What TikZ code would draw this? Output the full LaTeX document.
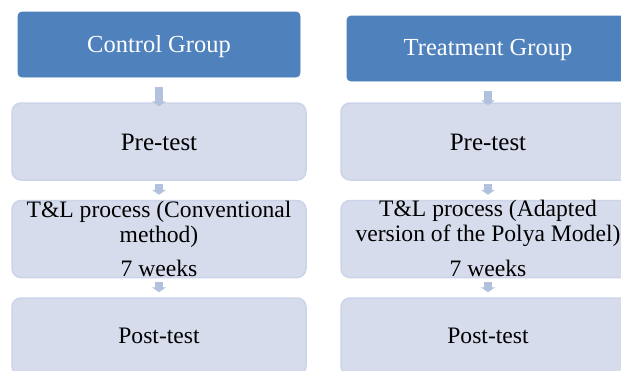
\documentclass[tikz,border=0pt]{standalone}
\usepackage{fontspec}
\setmainfont{Liberation Serif}
\usetikzlibrary{arrows.meta,calc}
\definecolor{darkblue}{HTML}{4F81BD}
\definecolor{lightfill}{HTML}{D6DCEC}
\definecolor{lightedge}{HTML}{CBD4E8}
\definecolor{arrowcol}{HTML}{B2C1DD}
\tikzset{
  x=1pt, y=1pt,
  headbox/.style={draw=darkblue, fill=darkblue, rounded corners=4pt, line width=0.8pt, minimum width=282pt, minimum height=65pt, inner sep=0pt},
  stepbox/.style={draw=lightedge, fill=lightfill, rounded corners=9pt, line width=1.5pt, minimum width=294pt, minimum height=77pt, inner sep=0pt},
  headtxt/.style={text=white, font=\fontsize{24.5}{26}\selectfont, anchor=base, inner sep=0pt},
  bodytxt/.style={text=black, font=\fontsize{23.6}{25}\selectfont, anchor=base, inner sep=0pt},
  camtxt/.style={text=black, font=\fontsize{25}{26}\selectfont, anchor=base, inner sep=0pt},
  blockarrow/.style={draw=arrowcol, line width=8.5pt, line cap=butt, -{Triangle[width=14pt,length=5pt]}}
}
\begin{document}
\begin{tikzpicture}
\useasboundingbox (0,0) rectangle (621,-370);
\clip (0,0) rectangle (621,-370);
\fill[white] (0,0) rectangle (621,-370);
% left column
\node[headbox] (cg) at (159,-44.5) {};
\node[stepbox] (pre1) at (159,-141.5) {};
\node[stepbox] (tl1) at (159,-239) {};
\node[stepbox] (post1) at (159,-336.5) {};
% right column
\node[headbox] (tg) at (488,-48.5) {};
\node[stepbox] (pre2) at (488,-141.5) {};
\node[stepbox] (tl2) at (488,-239) {};
\node[stepbox] (post2) at (488,-336.5) {};
% texts
\node[headtxt] (cgt) at (159,-52) {Control Group};
\node[headtxt] (tgt) at (488,-55) {Treatment Group};
\node[camtxt] (pre1t) at (159,-150) {Pre-test};
\node[camtxt] (pre2t) at (488,-150) {Pre-test};
\node[bodytxt] (tl1a) at (159,-217) {T\&L process (Conventional};
\node[bodytxt] (tl1b) at (159,-242) {method)};
\node[bodytxt] (tl1c) at (159,-276) {7 weeks};
\node[bodytxt] (tl2a) at (488,-216) {T\&L process (Adapted};
\node[bodytxt] (tl2b) at (488,-241) {version of the Polya Model)};
\node[bodytxt] (tl2c) at (488,-276) {7 weeks};
\node[bodytxt] (post1t) at (159,-343) {Post-test};
\node[bodytxt] (post2t) at (488,-343) {Post-test};
% arrows
\draw[blockarrow] ($(cg.south)+(0,-10)$) -- ($(pre1.north)+(0,-4)$);
\draw[blockarrow] ($(pre1.south)+(0,-3)$) -- ($(tl1.north)+(0,5)$);
\draw[blockarrow] ($(tl1.south)+(0,-4)$) -- ($(post1.north)+(0,5)$);
\draw[blockarrow] ($(tg.south)+(0,-10)$) -- ($(pre2.north)+(0,-3)$);
\draw[blockarrow] ($(pre2.south)+(0,-3)$) -- ($(tl2.north)+(0,5)$);
\draw[blockarrow] ($(tl2.south)+(0,-4)$) -- ($(post2.north)+(0,5)$);
\end{tikzpicture}
\end{document}
